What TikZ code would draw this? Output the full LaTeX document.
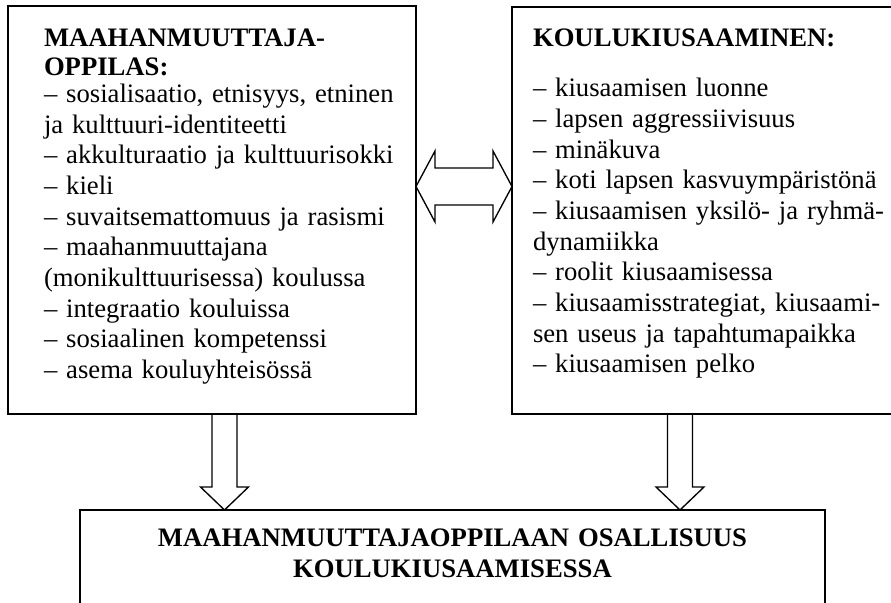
\documentclass[tikz,border=0pt]{standalone}
\usepackage{fontspec}
\setmainfont{Liberation Serif}
\usetikzlibrary{positioning, calc, fit}

\begin{document}
\begin{tikzpicture}[x=0.45pt, y=-0.45pt, frame/.style={draw, line width=0.9pt, inner sep=0pt, outer sep=0pt}, txt/.style={inner sep=0pt, outer sep=0pt, align=left, font={\fontsize{12}{13.8}\selectfont}}, hollow/.style={draw, line width=0.6pt, line join=miter}]

    \useasboundingbox (0,0) rectangle (891,603);
    \clip (0,0) rectangle (891,603);

    %Boxes
    \node[frame, fit={(8,6) (416,414)}](migrant){};
    \node[frame, fit={(512,7) (910,414)}](bullying){};
    \node[frame, fit={(80,510) (825,640)}](participation){};

    %Texts
    \node[txt, text width=170pt](migrant_text)[below right=8.55pt and 16.2pt of migrant.north west]{\strut\textbf{MAAHANMUUTTAJA-}\\[-0.6pt]\textbf{OPPILAS:}\\[-1.8pt]
        – sosialisaatio, etnisyys, etninen\\ja kulttuuri-identiteetti\\– akkulturaatio ja kulttuurisokki\\– kieli\\– suvaitsemattomuus ja rasismi\\– maahanmuuttajana\\(monikulttuurisessa) koulussa\\– integraatio kouluissa\\– sosiaalinen kompetenssi\\– asema kouluyhteisössä};
    \node[txt, text width=165pt](bullying_text)[below right=8.1pt and 9.45pt of bullying.north west]{\strut\textbf{KOULUKIUSAAMINEN:}\\[8.8pt]
        – kiusaamisen luonne\\– lapsen aggressiivisuus\\– minäkuva\\– koti lapsen kasvuympäristönä\\– kiusaamisen yksilö- ja ryhmä-\\dynamiikka\\– roolit kiusaamisessa\\– kiusaamisstrategiat, kiusaami-\\sen useus ja tapahtumapaikka\\– kiusaamisen pelko};
    \node[txt, align=center, text width=320pt](participation_text)[below=6.98pt of participation.north]{\strut\bfseries MAAHANMUUTTAJAOPPILAAN OSALLISUUS\\KOULUKIUSAAMISESSA};

    %Arrows
    \coordinate (link_left) at ($(migrant.east)+(0,-23.5)$);
    \coordinate (link_right) at ($(bullying.west)+(0,-24)$);
    \coordinate (tail_left) at ($(migrant.south)+(12.5,0)$);
    \coordinate (tip_left) at (participation.north -| tail_left);
    \coordinate (tail_right) at ($(bullying.south west)+(168,0)$);
    \coordinate (tip_right) at (participation.north -| tail_right);

    \draw[hollow] (link_left) -- ++(19,-35.5) -- ++(0,17) -- ($(link_right)+(-19,-18.5)$) -- ++(0,-17) -- (link_right) -- ++(-19,35.5) -- ++(0,-17) -- ($(link_left)+(19,18.5)$) -- ++(0,17) -- cycle;
    \draw[hollow] ($(tail_left)+(-12.5,0)$) -- ($(tip_left)+(-12.5,-23)$) -- ++(-11.5,0) -- (tip_left) -- ++(24,-23) -- ++(-11.5,0) -- ($(tail_left)+(12.5,0)$);
    \draw[hollow] ($(tail_right)+(-12.5,0)$) -- ($(tip_right)+(-12.5,-23)$) -- ++(-11.5,0) -- (tip_right) -- ++(24,-23) -- ++(-11.5,0) -- ($(tail_right)+(12.5,0)$);

\end{tikzpicture}
\end{document}
